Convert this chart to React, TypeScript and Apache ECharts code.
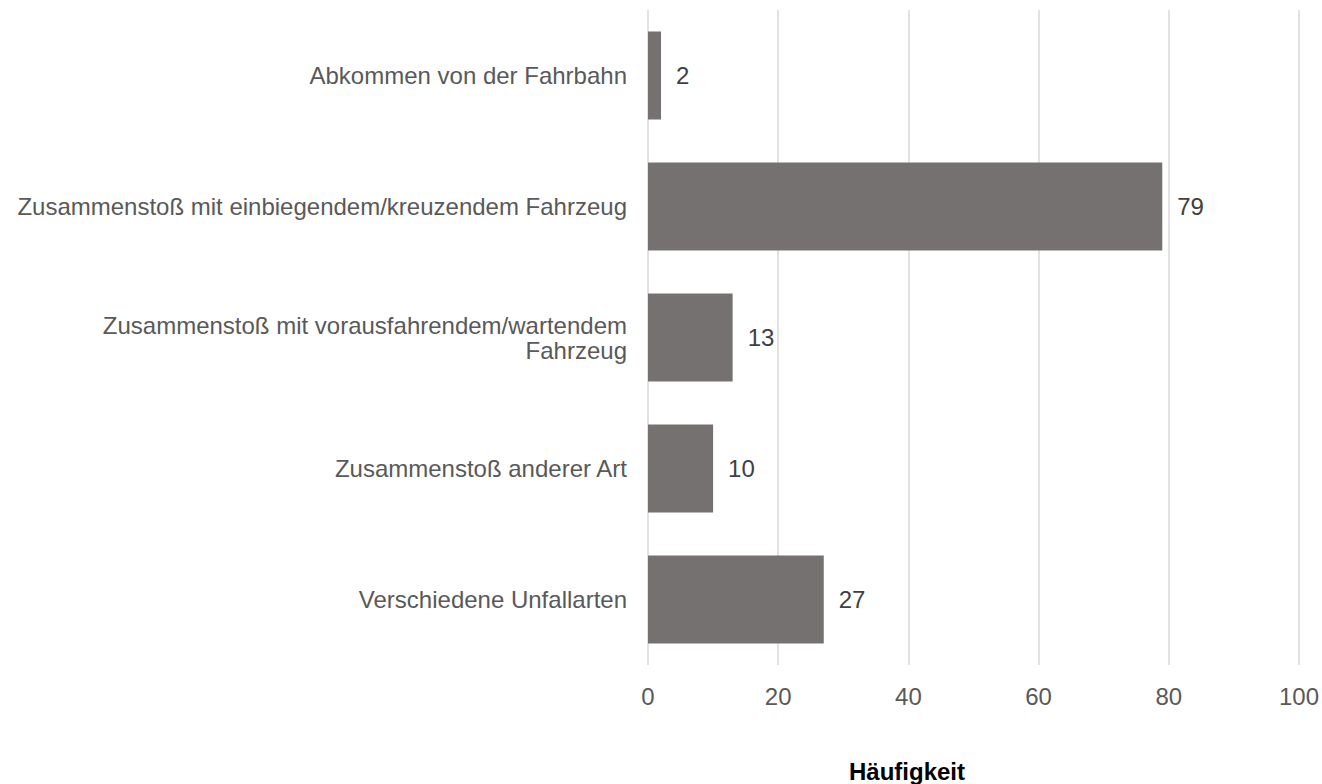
import React, { useEffect, useRef } from "react";
import * as echarts from "echarts";

const categories = [
  "Abkommen von der Fahrbahn",
  "Zusammenstoß mit einbiegendem/kreuzendem Fahrzeug",
  "Zusammenstoß mit vorausfahrendem/wartendem\nFahrzeug",
  "Zusammenstoß anderer Art",
  "Verschiedene Unfallarten",
];
const values = [2, 79, 13, 10, 27];
const axisTitle = "Häufigkeit";

export default function App() {
  const ref = useRef<HTMLDivElement>(null);
  useEffect(() => {
    if (!ref.current) return;
    const chart = echarts.init(ref.current, null, { renderer: "svg" });
    const font = "'Liberation Sans', Arial, Helvetica, sans-serif";
    chart.setOption({
      animation: false,
      textStyle: { fontFamily: font },
      grid: { left: 648, right: 23, top: 10, height: 655, containLabel: false },
      xAxis: {
        type: "value",
        min: 0,
        max: 100,
        interval: 20,
        axisLine: { show: false },
        axisTick: { show: false },
        splitLine: { show: true, lineStyle: { color: "#d9d9d9", width: 1.5 } },
        axisLabel: { color: "#595959", fontSize: 24, margin: 19, fontFamily: font },
      },
      yAxis: {
        type: "category",
        data: categories,
        inverse: true,
        axisLine: { show: false },
        axisTick: { show: false },
        axisLabel: {
          color: "#595959",
          fontSize: 24,
          margin: 21,
          lineHeight: 25,
          align: "right",
          fontFamily: font,
        },
      },
      series: [
        {
          type: "bar",
          data: values,
          barWidth: "67%",
          itemStyle: { color: "#767171" },
          label: {
            show: true,
            position: "right",
            distance: 15,
            color: "#404040",
            fontSize: 24,
            fontFamily: font,
          },
        },
      ],
      graphic: [
        {
          type: "text",
          x: 907,
          y: 771,
          style: {
            text: axisTitle,
            fill: "#000000",
            font: `bold 24px ${font}`,
            textAlign: "center",
            textVerticalAlign: "middle",
          },
        },
      ],
    });
    return () => chart.dispose();
  }, []);
  return <div ref={ref} style={{ width: 1322, height: 784, position: "absolute", left: 0, top: 0 }} />;
}
